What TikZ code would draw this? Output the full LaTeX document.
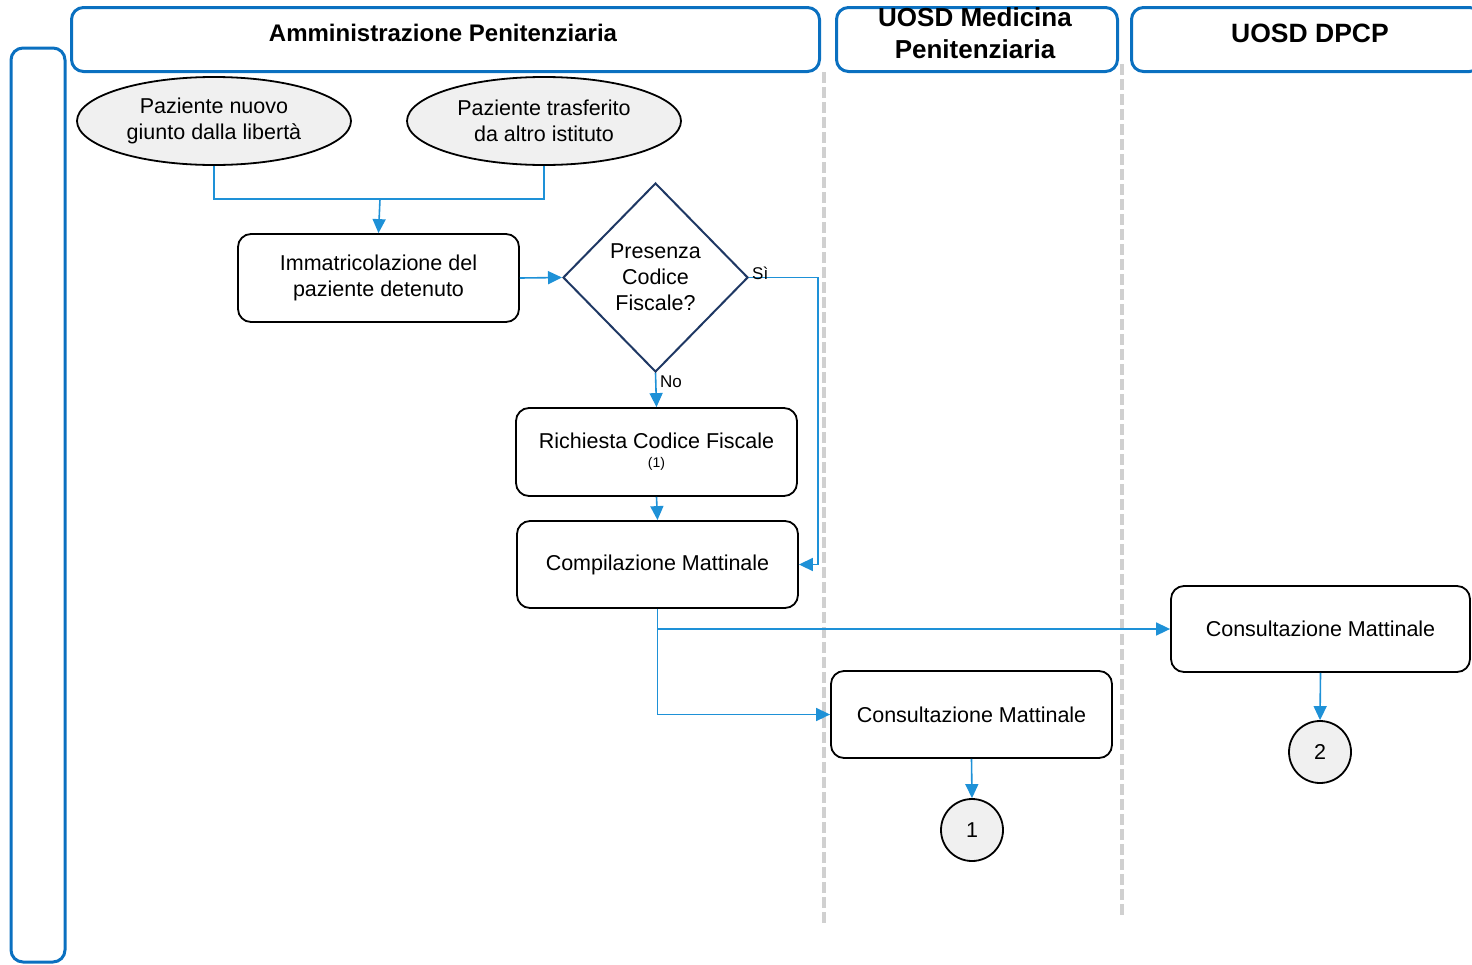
\documentclass[tikz,border=0pt]{standalone}
\usepackage{fontspec}
\setmainfont{Liberation Sans}
\usetikzlibrary{shapes.geometric,arrows.meta}
\definecolor{laneblue}{RGB}{10,112,192}
\definecolor{flowblue}{RGB}{30,145,215}
\definecolor{navy}{RGB}{31,56,100}
\definecolor{softgray}{RGB}{240,240,240}
\definecolor{dashgray}{RGB}{208,208,208}
\tikzset{
  lanehead/.style={draw=laneblue, line width=3pt, rounded corners=12pt, anchor=north west, inner sep=0pt},
  lanediv/.style={draw=dashgray, line width=4pt, dash pattern=on 11pt off 4pt},
  task/.style={draw=black, line width=1.8pt, rounded corners=13pt, align=center, inner sep=0pt,
    font=\fontsize{21.5}{26}\selectfont},
  start/.style={draw=black, fill=softgray, line width=1.8pt, ellipse, inner sep=0pt,
    minimum width=274pt, minimum height=88pt, align=center, font=\fontsize{21.5}{26}\selectfont},
  decision/.style={draw=navy, line width=2pt, diamond, aspect=1, inner sep=0pt,
    minimum width=185pt, minimum height=189pt, align=center, font=\fontsize{21.5}{26}\selectfont},
  connector/.style={draw=black, fill=softgray, line width=1.8pt, circle, inner sep=0pt,
    minimum size=62pt, font=\fontsize{21.5}{25}\selectfont},
  flow/.style={draw=flowblue, line width=1.6pt, -{Triangle[length=14pt,width=13pt]}},
  flowline/.style={draw=flowblue, line width=1.6pt},
  edgelabel/.style={font=\fontsize{17}{20}\selectfont, inner sep=0pt}
}
\begin{document}
\begin{tikzpicture}[x=1pt,y=-1pt]
\useasboundingbox (0,0) rectangle (1472,964);

% swimlane frame and headers
\draw[lanehead] (11,48) rectangle (65,962);
\node[lanehead, minimum width=748pt, minimum height=64pt] (hA) at (70,6) {};
\node[font=\bfseries\fontsize{24}{28}\selectfont] (tA) at (443,33) {Amministrazione Penitenziaria};
\node[lanehead, minimum width=281pt, minimum height=64pt] (hB) at (835,6) {};
\node[font=\bfseries\fontsize{26}{32}\selectfont, align=center] (tB) at (975,33) {UOSD Medicina\\Penitenziaria};
\node[lanehead, minimum width=350pt, minimum height=64pt] (hC) at (1130,6) {};
\node[font=\bfseries\fontsize{26.5}{32}\selectfont] (tC) at (1310,33) {UOSD DPCP};

% lane dividers
\coordinate (d1a) at (824,72);
\coordinate (d1b) at (824,925);
\coordinate (d2a) at (1122,64);
\coordinate (d2b) at (1122,916);
\draw[lanediv] (d1a) -- (d1b);
\draw[lanediv] (d2a) -- (d2b);

% process nodes
\node[start] (e1) at (214,121) {Paziente nuovo\\giunto dalla libertà};
\node[start] (e2) at (544,121) {Paziente trasferito\\da altro istituto};
\node[task, minimum width=281pt, minimum height=88pt] (imm) at (378.5,278) {Immatricolazione del\\paziente detenuto};
\node[decision] (dec) at (655.5,277.5) {Presenza\\Codice\\Fiscale?};
\node[task, minimum width=281pt, minimum height=88pt] (ric) at (656.5,452)
  {Richiesta Codice Fiscale\\[-7pt]{\fontsize{14}{16}\selectfont (1)}};
\node[task, minimum width=281pt, minimum height=87pt] (comp) at (657.5,564.5) {Compilazione Mattinale};
\node[task, minimum width=281pt, minimum height=87pt] (cons1) at (971.5,714.5) {Consultazione Mattinale};
\node[task, minimum width=299pt, minimum height=86pt] (cons2) at (1320.5,629) {Consultazione Mattinale};
\node[connector] (c1) at (972,830) {1};
\node[connector] (c2) at (1320,752) {2};

% connectors
\coordinate (j) at (380,199);
\draw[flowline] (e1.south) |- (j);
\draw[flowline] (e2.south) |- (j);
\draw[flow] (j) -- (imm.north);
\draw[flow] (imm.east) -- (dec.west);
\coordinate (si) at (818,277.5);
\draw[flow] (dec.east) -- (si) |- (comp.east);
\node[edgelabel, anchor=south west] (lsi) at (752,280) {Sì};
\draw[flow] (dec.south) -- (ric.north);
\node[edgelabel, anchor=north west] (lno) at (660,376) {No};
\draw[flow] (ric.south) -- (comp.north);
\draw[flow] (comp.south) |- (cons2.west);
\draw[flow] (comp.south) |- (cons1.west);
\draw[flow] (cons1.south) -- (c1.north);
\draw[flow] (cons2.south) -- (c2.north);
\end{tikzpicture}
\end{document}
